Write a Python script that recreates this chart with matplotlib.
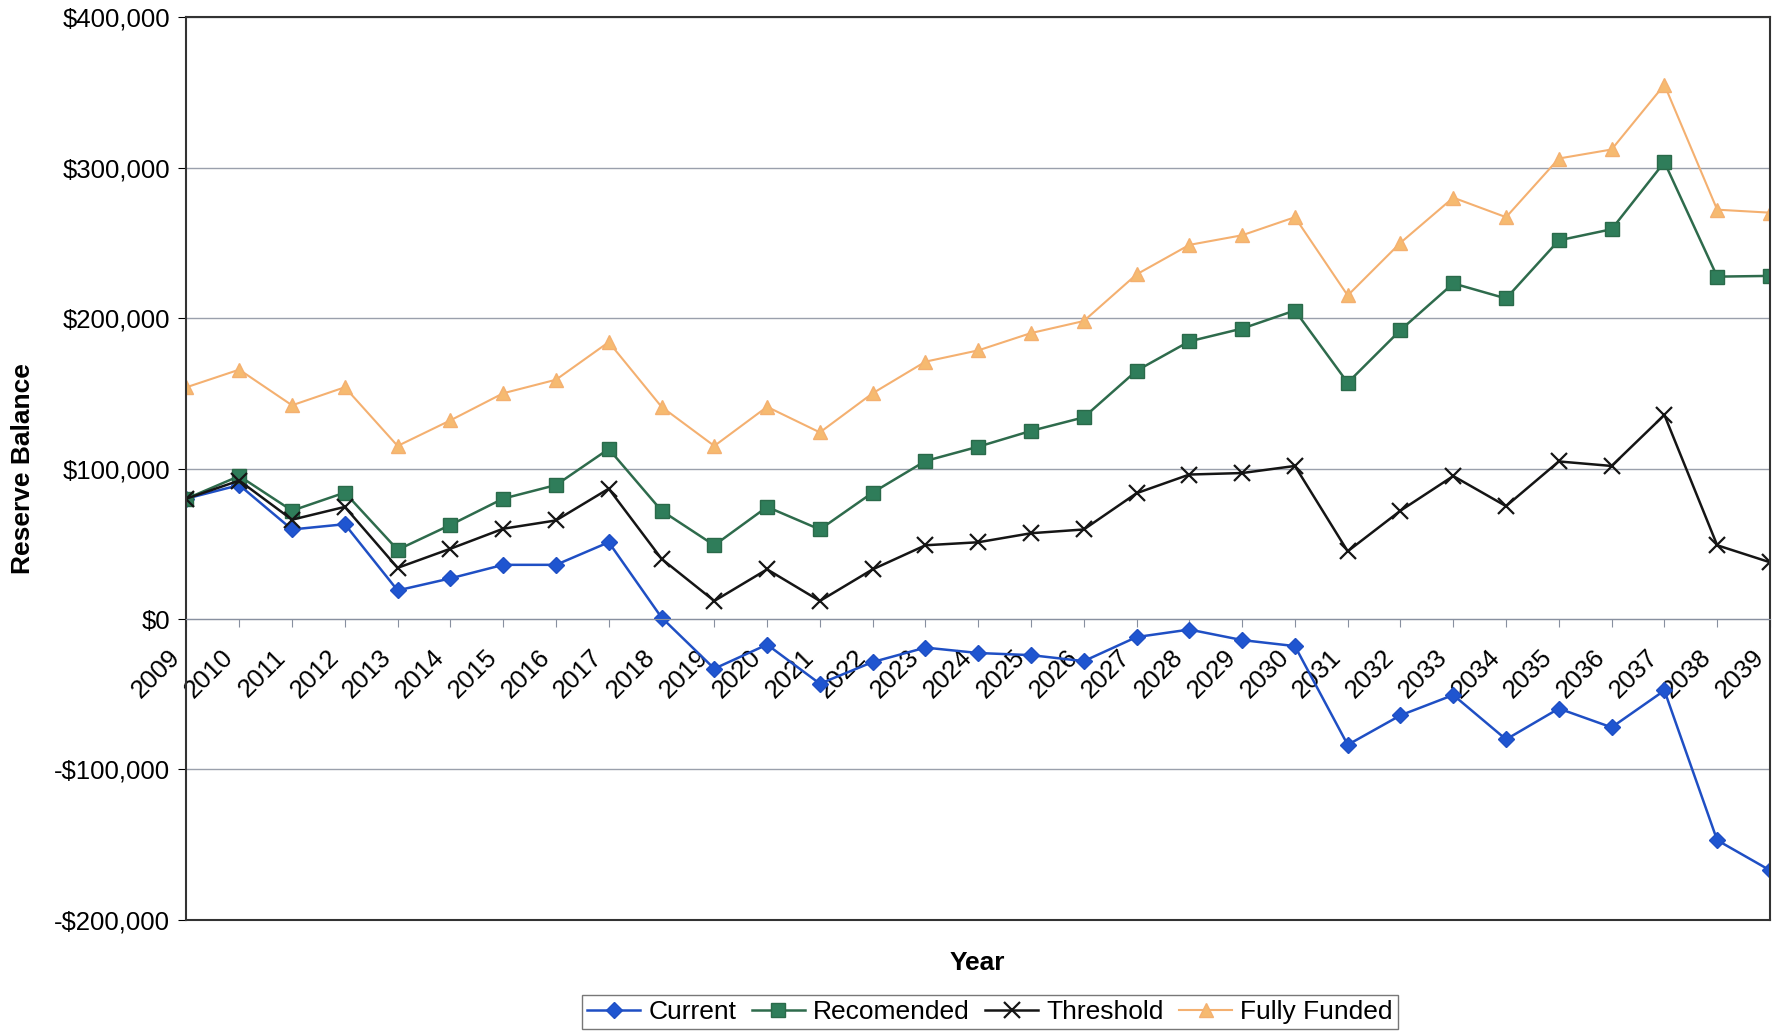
import matplotlib
matplotlib.use('Agg')
import matplotlib.pyplot as plt
import matplotlib.transforms as mtransforms
from matplotlib.ticker import FuncFormatter
import numpy as np

# Reserve balance projections by year
years = list(range(2009, 2040))

current = [80000, 89000, 59500, 63000, 19000, 27000, 36000, 36000, 51000, 1000,
           -33000, -17000, -43000, -28600, -19000, -22600, -24000, -28000, -12000, -7000,
           -14000, -18000, -83600, -64000, -50500, -80000, -59500, -72000, -47500, -147000,
           -167000]
recomended = [80000, 95000, 72000, 84000, 46000, 62500, 80000, 89000, 113000, 72000,
              49000, 74500, 59500, 84000, 105000, 114500, 125000, 134000, 165000, 184500,
              193000, 205000, 157000, 192000, 223000, 213000, 251600, 259000, 303600, 227500,
              228000]
threshold = [80000, 92000, 66000, 74500, 34000, 46700, 60000, 65500, 86600, 40000,
             12000, 33000, 12000, 33000, 49000, 51000, 57000, 59500, 83600, 96000,
             97000, 101700, 45000, 72000, 95000, 75000, 104700, 101700, 135600, 49000,
             37700]
fully_funded = [154000, 165700, 142000, 154000, 115000, 132000, 150000, 159000, 184000, 141000,
                115000, 141000, 124000, 150000, 171000, 178500, 190000, 198000, 229000, 248600,
                255000, 267000, 215000, 250000, 280000, 267000, 306000, 312000, 355000, 272000,
                270000]

plt.rcParams['font.family'] = ['Liberation Sans', 'DejaVu Sans']
FS = 18.5

fig = plt.figure(figsize=(17.76, 10.33), dpi=100)
ax = fig.add_axes([0.105, 0.1094, 0.8916, 0.8741])

ax.plot(years, current, color='#1F4FC4', lw=1.8, marker='D', ms=8,
        markerfacecolor='#1F55D0', markeredgecolor='#1F4FC4', label='Current')
ax.plot(years, recomended, color='#2E6B4C', lw=1.8, marker='s', ms=10,
        markerfacecolor='#2F7D5A', markeredgecolor='#2A6A4A', label='Recomended')
ax.plot(years, threshold, color='#151515', lw=1.8, marker='x', ms=11,
        markeredgewidth=1.6, label='Threshold')
ax.plot(years, fully_funded, color='#F4B070', lw=1.5, marker='^', ms=10,
        markerfacecolor='#F6BA70', markeredgecolor='#F4B070', label='Fully Funded')

ax.set_xlim(2009, 2039)
ax.set_ylim(-200000, 400000)
ax.set_yticks(np.arange(-200000, 400001, 100000))
ax.yaxis.set_major_formatter(FuncFormatter(
    lambda v, p: ('-$' if v < 0 else '$') + f'{abs(int(v)):,}'))
ax.grid(axis='y', color='#9AA0AC', lw=1.0)
ax.set_axisbelow(True)

# category axis crosses at zero
ax.spines['bottom'].set_position(('data', 0))
ax.spines['bottom'].set_color('#8890A0')
ax.axhline(-200000, color='#333333', lw=1.5, clip_on=False)
for s in ['top', 'left', 'right']:
    ax.spines[s].set_color('#333333')
    ax.spines[s].set_linewidth(1.5)

ax.set_xticks(years)
ax.set_xticklabels([str(y) for y in years], rotation=45, ha='right', va='center',
                   rotation_mode='anchor', fontsize=FS)
ax.tick_params(axis='x', direction='out', length=6, color='#8890A0', pad=0)
ax.tick_params(axis='y', direction='out', length=6, labelsize=FS, pad=6)

# nudge year labels down-left like the original
shift = mtransforms.ScaledTranslation(-0.10, -0.26, fig.dpi_scale_trans)
for lbl in ax.get_xticklabels():
    lbl.set_transform(lbl.get_transform() + shift)

fig.text(0.5504, 0.068, 'Year', ha='center', va='center', fontsize=19, fontweight='bold')
fig.text(0.0128, 0.546, 'Reserve Balance', ha='center', va='center', rotation=90,
         fontsize=19, fontweight='bold')

leg = fig.legend(loc='center', bbox_to_anchor=(0.5574, 0.0203), ncol=4, fontsize=19,
                 frameon=True, fancybox=False, edgecolor='#555555',
                 handlelength=2.0, handletextpad=0.3, columnspacing=0.6,
                 borderpad=0.2)
leg.get_frame().set_linewidth(1.0)

fig.savefig('out.png', dpi=100)
plt.close(fig)
